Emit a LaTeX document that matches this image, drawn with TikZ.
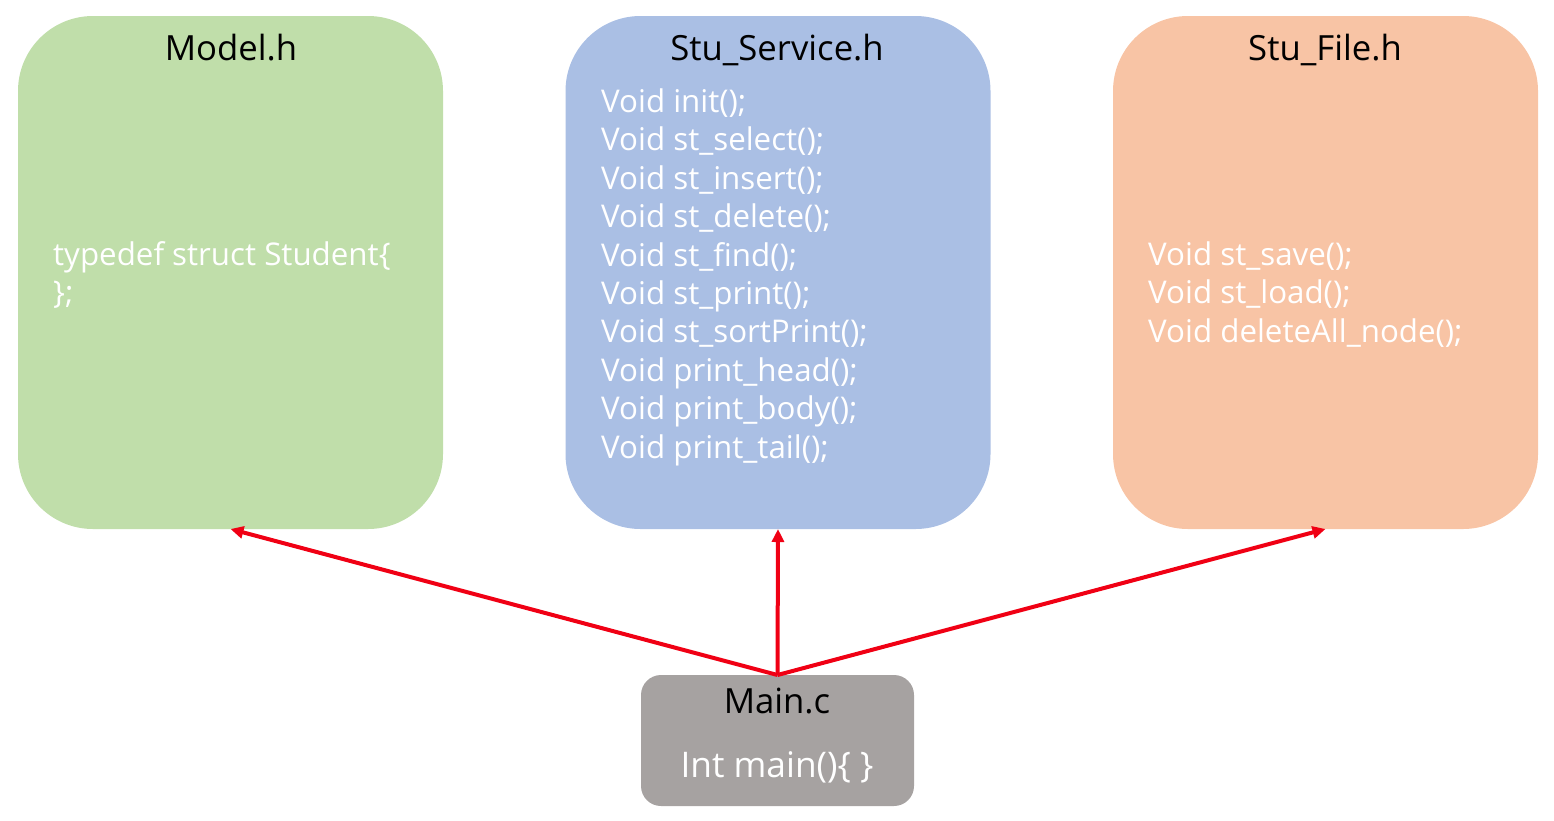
\documentclass[tikz,border=0pt]{standalone}
\usepackage{fontspec}
\setmainfont{Open Sans}
\usetikzlibrary{arrows.meta}
\definecolor{cgreen}{RGB}{192,222,170}
\definecolor{cblue}{RGB}{170,191,228}
\definecolor{corange}{RGB}{248,196,165}
\definecolor{cgray}{RGB}{166,162,161}
\definecolor{cred}{RGB}{240,0,20}
\tikzset{
  bigbox/.style={draw=none, rounded corners=75pt, minimum width=425pt, minimum height=513pt, inner sep=0pt, outer sep=0pt},
  mainbox/.style={draw=none, fill=cgray, rounded corners=20pt, minimum width=273pt, minimum height=131pt, inner sep=0pt, outer sep=0pt},
  title/.style={font=\fontsize{34.7}{40}\selectfont, text=black, anchor=base, inner sep=0pt},
  bodytxt/.style={font=\fontsize{31.3}{38.4}\selectfont, text=white, anchor=base west, inner sep=0pt, align=left},
  link/.style={draw=cred, line width=4pt, -{Triangle[length=13pt,width=12pt]}, shorten >=0pt}
}
\begin{document}
\begin{tikzpicture}[x=1pt,y=-1pt]
\useasboundingbox (0,0) rectangle (1554,820);
\node[bigbox, fill=cgreen] (model) at (230.5,272.5) {};
\node[bigbox, fill=cblue] (service) at (778,272.5) {};
\node[bigbox, fill=corange] (file) at (1325.5,272.5) {};
\node[mainbox] (main) at (777.5,740.5) {};
\node[title] (tmodel) at (231,60) {Model.h};
\node[title] (tservice) at (777,60) {Stu\_Service.h};
\node[title] (tfile) at (1325,60) {Stu\_File.h};
\node[title] (tmain) at (777,713) {Main.c};
\node[title, text=white, font=\fontsize{35.3}{40}\selectfont] (tmainbody) at (777,777) {Int main()\{ \}};
\node[bodytxt] (bmodel1) at (53,265.5) {typedef struct Student\{};
\node[bodytxt] (bmodel2) at (53,303.9) {\};};
\foreach \t [count=\i from 0] in {Void init();, Void st\_select();, Void st\_insert();, Void st\_delete();, Void st\_find();, Void st\_print();, Void st\_sortPrint();, Void print\_head();, Void print\_body();, Void print\_tail();}{
  \node[bodytxt] (bs\i) at (601,112.5+38.4*\i) {\t};
}
\node[bodytxt] (bf1) at (1148,265.5) {Void st\_save();};
\node[bodytxt] (bf2) at (1148,303.9) {Void st\_load();};
\node[bodytxt] (bf3) at (1148,342.3) {Void deleteAll\_node();};
\draw[link] (main.north) -- (model.south);
\draw[link] (main.north) -- (service.south);
\draw[link] (main.north) -- (file.south);
\end{tikzpicture}
\end{document}
